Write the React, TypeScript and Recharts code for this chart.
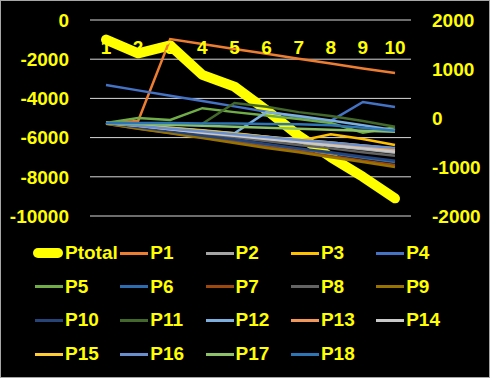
import React from 'react'
import { LineChart, Line, XAxis, YAxis, CartesianGrid } from 'recharts'

// categories along the top
const categories = ['1', '2', '3', '4', '5', '6', '7', '8', '9', '10']

// left axis
const ptotal = [-1000, -1700, -1300, -2800, -3400, -4600, -5900, -7000, -8000, -9100]

// right axis series
const p1 = [-100, -60, 1610, 1510, 1410, 1310, 1210, 1110, 1010, 920]
const p2 = [-100, -170, -240, -300, -370, -440, -500, -570, -640, -710]
const p3 = [-100, -150, -200, -250, -310, -380, -470, -330, -430, -550]
const p4 = [673, 564, 455, 346, 237, 128, 19, -60, 327, 224]
const p5 = [-100, 0, -40, 200, 120, 50, -20, -100, -300, -190]
const p6 = [-110, -200, -290, -380, -460, -550, -640, -720, -810, -900]
const p7 = [-120, -215, -305, -400, -495, -590, -680, -775, -870, -960]
const p8 = [-100, -180, -250, -330, -400, -470, -550, -620, -700, -770]
const p9 = [-120, -220, -310, -410, -510, -610, -700, -800, -900, -1000]
const p10 = [-100, -190, -270, -360, -440, -530, -620, -700, -790, -870]
const p11 = [-100, -130, -150, -120, 306, 230, 120, 40, -60, -180]
const p12 = [-100, -150, -200, -260, -310, 120, 40, -50, -150, -250]
const p13 = [-100, -160, -230, -290, -350, -420, -480, -540, -600, -660]
const p14 = [-100, -160, -230, -300, -360, -430, -490, -560, -620, -690]
const p15 = [-100, -150, -210, -260, -320, -380, -440, -500, -560, -620]
const p16 = [-100, -160, -220, -270, -330, -390, -450, -500, -560, -610]
const p17 = [-100, -120, -140, -160, -180, -200, -220, -240, -260, -280]
const p18 = [-100, -100, -100, -110, -110, -120, -130, -150, -200, -260]

const leftTicks = [0, -2000, -4000, -6000, -8000, -10000]
const rightTicks = [2000, 1000, 0, -1000, -2000]

const YELLOW = '#FFFF00'
const FONT = '"Liberation Sans", Arial, sans-serif'

const series = [
  { name: 'P1', values: p1, color: '#ED7D31' },
  { name: 'P2', values: p2, color: '#A5A5A5' },
  { name: 'P3', values: p3, color: '#FFC000' },
  { name: 'P4', values: p4, color: '#4472C4' },
  { name: 'P5', values: p5, color: '#70AD47' },
  { name: 'P6', values: p6, color: '#2E6CB0' },
  { name: 'P7', values: p7, color: '#9E480E' },
  { name: 'P8', values: p8, color: '#636363' },
  { name: 'P9', values: p9, color: '#997300' },
  { name: 'P10', values: p10, color: '#264478' },
  { name: 'P11', values: p11, color: '#43682B' },
  { name: 'P12', values: p12, color: '#7CAFDD' },
  { name: 'P13', values: p13, color: '#F1975A' },
  { name: 'P14', values: p14, color: '#C9C9C9' },
  { name: 'P15', values: p15, color: '#FFCD33' },
  { name: 'P16', values: p16, color: '#698ED0' },
  { name: 'P17', values: p17, color: '#8CC168' },
  { name: 'P18', values: p18, color: '#2E75B6' },
]

const data = categories.map((c, i) => {
  const row: any = { name: c, Ptotal: ptotal[i] }
  series.forEach(s => { row[s.name] = s.values[i] })
  return row
})

const tickStyle = { fill: YELLOW, fontSize: 19, fontWeight: 700, fontFamily: FONT }

// category labels sit inside the plot, under the 0 line
const TopTick = ({ x, payload }: any) => (
  <text x={x} y={54} textAnchor="middle" {...tickStyle}>{payload.value}</text>
)

function LegendBox() {
  const items = [{ name: 'Ptotal', color: YELLOW }, ...series]
  return (
    <div style={{ position: 'absolute', left: 0, top: 241, width: 490, height: 130 }}>
      {items.map((it, i) => {
        const col = i % 5
        const row = Math.floor(i / 5)
        const big = it.name === 'Ptotal'
        return (
          <div key={it.name} style={{
            position: 'absolute', left: 35 + col * 85.3, top: row * 33.7, height: 24,
            display: 'flex', alignItems: 'center'
          }}>
            <div style={{
              width: big ? 30 : 28, height: big ? 10 : 3, borderRadius: big ? 5 : 0,
              background: it.color, marginLeft: big ? -2 : 0, marginRight: 2
            }} />
            <span style={{ color: YELLOW, fontSize: 19, fontWeight: 700, fontFamily: FONT, lineHeight: '24px' }}>
              {it.name}
            </span>
          </div>
        )
      })}
    </div>
  )
}

export default function App() {
  return (
    <div style={{ position: 'fixed', left: 0, top: 0, width: 490, height: 378, background: '#000' }}>
      <LineChart width={490} height={378} data={data} margin={{ top: 10, right: 0, left: 0, bottom: 162 }}>
        <CartesianGrid yAxisId="left" vertical={false} stroke="#D9D9D9" strokeWidth={1} />
        <XAxis dataKey="name" orientation="top" height={10} axisLine={false} tickLine={false}
          padding={{ left: 16, right: 16 }} tick={<TopTick />} interval={0} />
        <YAxis yAxisId="left" orientation="left" width={90} domain={[-10000, 0]} ticks={leftTicks}
          axisLine={false} tickLine={false} tickSize={0} tickMargin={21} tick={tickStyle} />
        <YAxis yAxisId="right" orientation="right" width={79} domain={[-2000, 2000]} ticks={rightTicks}
          axisLine={false} tickLine={false} tickSize={0} tickMargin={21} tick={tickStyle} />
        <Line yAxisId="left" dataKey="Ptotal" stroke={YELLOW} strokeWidth={10} strokeLinecap="round"
          strokeLinejoin="round" dot={false} isAnimationActive={false} />
        {series.map(s => (
          <Line key={s.name} yAxisId="right" dataKey={s.name} stroke={s.color} strokeWidth={2.5}
            dot={false} isAnimationActive={false} />
        ))}
      </LineChart>
      <LegendBox />
      <div style={{ position: 'absolute', left: 0, top: 0, width: 490, height: 378, boxSizing: 'border-box',
        border: '1px solid #A6A6A6', pointerEvents: 'none' }} />
    </div>
  )
}
